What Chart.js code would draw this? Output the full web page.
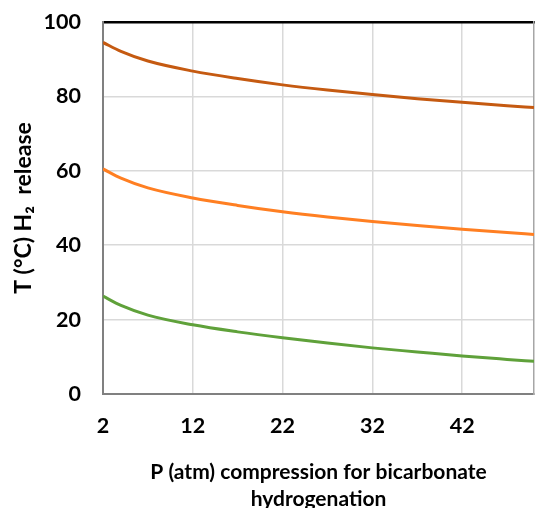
<!DOCTYPE html>
<html>
<head>
<meta charset="utf-8">
<script src="https://cdn.jsdelivr.net/npm/chart.js@4/dist/chart.umd.min.js"></script>
<style>
  html, body { margin: 0; padding: 0; background: #fff; }
  #wrap { width: 535px; height: 508px; }
</style>
</head>
<body>
<div id="wrap"><canvas id="chart" width="535" height="508"></canvas></div>
<script>
// pressure (atm)
var pressures = [2, 4, 7, 12, 17, 22, 27, 32, 37, 42, 47, 50];
// release temperature curves (°C)
var tempHigh = [94.5, 92.1, 89.5, 86.8, 84.8, 83.1, 81.7, 80.5, 79.4, 78.4, 77.5, 77.0];
var tempMid  = [60.5, 58.0, 55.4, 52.7, 50.7, 49.0, 47.6, 46.4, 45.3, 44.3, 43.4, 42.9];
var tempLow  = [26.3, 23.8, 21.2, 18.6, 16.7, 15.1, 13.7, 12.4, 11.3, 10.2, 9.3, 8.8];
var xTicks = [2, 12, 22, 32, 42];
var yTicks = [0, 20, 40, 60, 80, 100];

function toPoints(ys) {
    return pressures.map(function (p, i) { return { x: p, y: ys[i] }; });
}

function series(ys, color) {
    return {
        data: toPoints(ys),
        borderColor: color,
        borderWidth: 3,
        pointRadius: 0,
        cubicInterpolationMode: 'monotone',
        fill: false
    };
}

var font = { family: 'Lato, "Open Sans", sans-serif', weight: 'bold' };
var gridColor = '#d9d9d9';

// keep tick labels from pushing the plot area inwards
function noPad(s) {
    s.paddingTop = 0; s.paddingBottom = 0; s.paddingLeft = 0; s.paddingRight = 0;
}

new Chart(document.getElementById('chart').getContext('2d'), {
    type: 'line',
    data: {
        datasets: [
            series(tempHigh, '#c55a11'),
            series(tempMid, '#ff7f22'),
            series(tempLow, '#5fa13a')
        ]
    },
    options: {
        responsive: false,
        animation: false,
        layout: { padding: 0 },
        plugins: { legend: { display: false }, tooltip: { enabled: false } },
        scales: {
            x: {
                type: 'linear',
                min: 2,
                max: 50,
                afterBuildTicks: function (s) { s.ticks = xTicks.map(function (v) { return { value: v }; }); },
                afterFit: function (s) { s.height = 114; noPad(s); },
                grid: { color: gridColor, lineWidth: 1.5, tickLength: 0 },
                border: { color: '#808080', width: 2 },
                ticks: { color: '#000', padding: 19, font: Object.assign({ size: 21.5 }, font) },
                title: {
                    display: true,
                    text: ['P (atm) compression for bicarbonate', 'hydrogenation'],
                    color: '#000',
                    font: Object.assign({ size: 21, lineHeight: 1.3 }, font),
                    padding: { top: 10, bottom: -5 }
                }
            },
            xTop: {
                type: 'linear',
                position: 'top',
                min: 2,
                max: 50,
                afterFit: function (s) { s.height = 22; noPad(s); },
                grid: { drawOnChartArea: false, drawTicks: false },
                border: { color: '#000', width: 2.5 },
                ticks: { display: false }
            },
            y: {
                min: 0,
                max: 100,
                afterBuildTicks: function (s) { s.ticks = yTicks.map(function (v) { return { value: v }; }); },
                afterFit: function (s) { s.width = 103; noPad(s); },
                grid: { color: gridColor, lineWidth: 1.5, tickLength: 0 },
                border: { color: '#808080', width: 2 },
                ticks: { color: '#000', padding: 22, font: Object.assign({ size: 21.5 }, font) },
                title: {
                    display: true,
                    text: 'T (°C) H\u2082  release',
                    color: '#000',
                    font: Object.assign({ size: 23 }, font),
                    padding: { top: 10, bottom: 0 }
                }
            },
            yRight: {
                position: 'right',
                min: 0,
                max: 100,
                afterFit: function (s) { s.width = 1; noPad(s); },
                grid: { drawOnChartArea: false, drawTicks: false },
                border: { color: '#a6a6a6', width: 1.5 },
                ticks: { display: false }
            }
        }
    }
});
</script>
</body>
</html>
